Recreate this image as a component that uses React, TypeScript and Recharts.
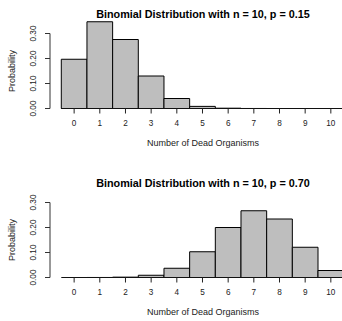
import React from 'react';
import { BarChart, Bar, XAxis, YAxis, ReferenceLine } from 'recharts';

// number of dead organisms (0..10) and the probabilities
const deadCounts = [0, 1, 2, 3, 4, 5, 6, 7, 8, 9, 10];
const probP015 = [0.197, 0.347, 0.276, 0.13, 0.04, 0.0085, 0.0012, 0.0001, 0, 0, 0];
const probP070 = [0, 0.0001, 0.0014, 0.009, 0.037, 0.103, 0.2, 0.267, 0.234, 0.121, 0.028];

const yTicks = [0, 0.05, 0.1, 0.15, 0.2, 0.25, 0.3];
const yTickLabels = ['0.00', '', '0.10', '', '0.20', '', '0.30'];
const titles = [
  'Binomial Distribution with n = 10, p = 0.15',
  'Binomial Distribution with n = 10, p = 0.70',
];

const FONT = '"Liberation Sans", Arial, Helvetica, sans-serif';
const TEXT = '#222';
const X_DOMAIN: [number, number] = [-0.94, 10.98];
const Y_DOMAIN: [number, number] = [0, 0.36];

const YTick = (props: any) => {
  const { x, y, payload } = props;
  const label = yTickLabels[yTicks.indexOf(payload.value)];
  if (!label) return null;
  const bx = x - 7;
  return (
    <text
      x={bx}
      y={y}
      transform={`rotate(-90 ${bx} ${y})`}
      textAnchor="middle"
      fontSize={8.2}
      fontFamily={FONT}
      fill={TEXT}
    >
      {label}
    </text>
  );
};

function Panel({ title, values, top }: { title: string; values: number[]; top: number }) {
  const data = deadCounts.map((k, i) => ({ k, p: values[i] }));

  return (
    <div style={{ position: 'absolute', left: 0, top, width: 360, height: 160 }}>
      {/* TITLE */}
      <div
        style={{
          position: 'absolute',
          left: 50,
          top: 7.5,
          width: 306,
          lineHeight: '12px',
          textAlign: 'center',
          fontWeight: 'bold',
          fontSize: 10.8,
          color: '#000',
        }}
      >
        {title}
      </div>

      <BarChart
        width={360}
        height={160}
        data={data}
        margin={{ top: 18.5, right: 4, bottom: 0, left: 0 }}
      >
        <XAxis
          dataKey="k"
          type="number"
          domain={X_DOMAIN}
          ticks={deadCounts}
          interval={0}
          height={51.5}
          axisLine={false}
          tickSize={5}
          tickMargin={7}
          tickLine={{ stroke: '#222' }}
          tick={{ fontSize: 8.2, fill: TEXT, fontFamily: FONT }}
        />
        <YAxis
          domain={Y_DOMAIN}
          ticks={yTicks}
          width={50}
          axisLine={false}
          tickSize={5}
          tickLine={{ stroke: '#333' }}
          tick={<YTick />}
        />
        <Bar
          dataKey="p"
          fill="#bebebe"
          stroke="#000"
          strokeWidth={1}
          barSize={25.67}
          isAnimationActive={false}
        />
        <ReferenceLine
          segment={[
            { x: -0.5, y: 0 },
            { x: 10.5, y: 0 },
          ]}
          stroke="#111"
          ifOverflow="visible"
        />
        <ReferenceLine
          segment={[
            { x: X_DOMAIN[0], y: 0 },
            { x: X_DOMAIN[0], y: 0.3 },
          ]}
          stroke="#333"
          ifOverflow="visible"
        />
      </BarChart>

      {/* AXIS TITLES */}
      <div
        style={{
          position: 'absolute',
          left: 50,
          top: 137,
          width: 306,
          lineHeight: '12px',
          textAlign: 'center',
          fontSize: 9,
          color: TEXT,
        }}
      >
        Number of Dead Organisms
      </div>
      <div
        style={{
          position: 'absolute',
          left: -28,
          top: 65,
          width: 80,
          height: 12,
          lineHeight: '12px',
          textAlign: 'center',
          fontSize: 9,
          color: TEXT,
          transform: 'rotate(-90deg)',
        }}
      >
        Probability
      </div>
    </div>
  );
}

export default function App() {
  return (
    <div
      style={{
        position: 'relative',
        width: 342,
        height: 321,
        overflow: 'hidden',
        background: '#fff',
        fontFamily: FONT,
      }}
    >
      <style>{'body{margin:0}'}</style>
      <Panel title={titles[0]} values={probP015} top={0} />
      <Panel title={titles[1]} values={probP070} top={169} />
    </div>
  );
}
